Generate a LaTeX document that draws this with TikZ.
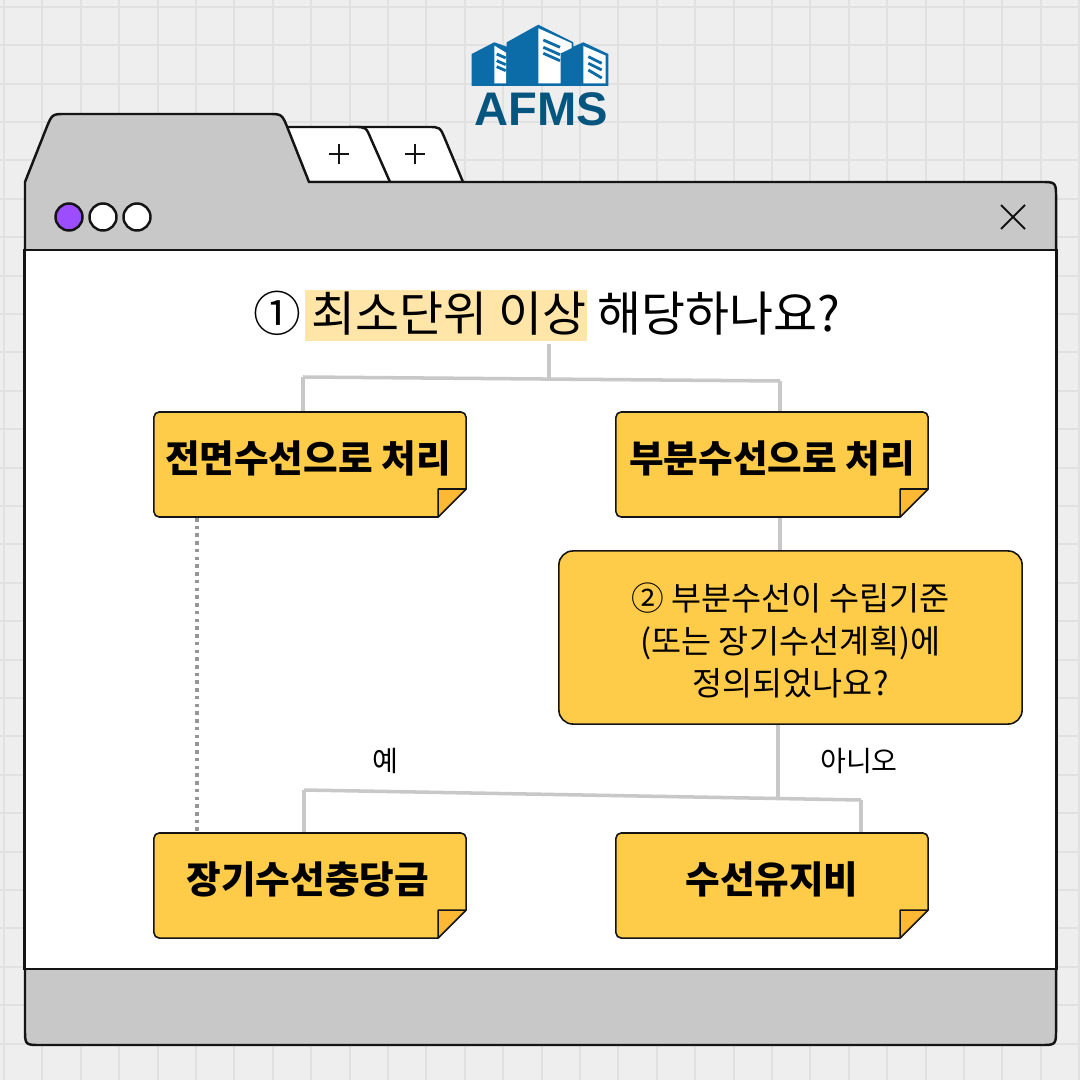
\documentclass[tikz,border=0pt]{standalone}
\usepackage{fontspec}
\setmainfont{Noto Sans CJK KR}
\newfontfamily\logofont{Liberation Sans}
\definecolor{paper}{HTML}{EEEEEE}
\definecolor{gridline}{HTML}{E1E1E1}
\definecolor{frame}{HTML}{C8C8C8}
\definecolor{ink}{HTML}{141414}
\definecolor{noteyellow}{HTML}{FFCC4A}
\definecolor{foldyellow}{HTML}{FDB933}
\definecolor{marker}{HTML}{FFE5A8}
\definecolor{logoblue}{HTML}{0C6CA8}
\definecolor{logotext}{HTML}{06557F}
\tikzset{
    notebox/.style={draw=ink,fill=noteyellow,line width=0.45pt,rounded corners=1.5pt,outer sep=0pt,minimum width=3.12cm,minimum height=1.05cm,inner sep=0pt,font=\fontsize{10.7}{12}\selectfont\bfseries},
    wire/.style={frame,line width=1pt},
    dot/.style={draw=ink,fill=white,circle,line width=0.7pt,minimum size=0.27cm,inner sep=0pt}
}
% sticky note with a folded corner
\newcommand{\stickynote}[4]{
    \node[notebox] (#1) at (#2,#3) {\raisebox{-2.2pt}[0pt][0pt]{#4}};
    \fill[white] ([shift={(-28,1)}]#1.south east) -- ([shift={(1,-28)}]#1.south east) -- ([shift={(1,1)}]#1.south east) -- cycle;
    \draw[ink,line width=0.45pt,fill=foldyellow,line join=round] ([shift={(-28,0)}]#1.south east) -- ([shift={(-28,-28)}]#1.south east) -- ([shift={(0,-28)}]#1.south east) -- cycle;
}
\begin{document}
\begin{tikzpicture}[x=0.01cm,y=-0.01cm]
    \useasboundingbox (0,0) rectangle (1080,1080);
    \fill[paper] (0,0) rectangle (1080,1080);
    \foreach \k in {0,...,28} {
        \draw[gridline,line width=0.55pt] ({4+38.4*\k},0) -- ({4+38.4*\k},1080);
        \draw[gridline,line width=0.55pt] (0,{6.8+38.4*\k}) -- (1080,{6.8+38.4*\k});
    }
    % logo
    \fill[logoblue] (471.7,54) -- (494.3,42.3) -- (506.7,46.7) -- (506.7,42.3) -- (538.3,24.7) -- (573.3,42.3) -- (573.3,46.7) -- (583.3,42.3) -- (608.3,54) -- (608.3,86) -- (471.7,86) -- cycle;
    \fill[white] (494.3,45.7) -- (506,52.7) -- (506,83.3) -- (494.3,83.3) -- cycle;
    \fill[white] (538.3,28.3) -- (571.7,43.3) -- (571.7,48) -- (560.7,53.3) -- (560.7,83.3) -- (538.3,83.3) -- cycle;
    \fill[white] (583.3,46) -- (605.7,55.7) -- (605.7,83.3) -- (583.3,83.3) -- cycle;
    \foreach \a/\b in {54/58,60.7/64.7,66.7/70.7}
        \draw[logoblue,line width=0.8pt] (496.7,\a) -- (505.7,\b);
    \foreach \a/\b in {40/47.3,47.3/54.7,53.3/60.7}
        \draw[logoblue,line width=0.8pt] (543.3,\a) -- (560,\b);
    \foreach \a/\b in {56.7/63.3,63.3/70,70/78}
        \draw[logoblue,line width=0.8pt] (588.3,\a) -- (601.7,\b);
    \node[text=logotext,font=\logofont\fontsize{13.4}{14}\selectfont\bfseries,inner sep=0pt] (logo) at (541,109) {AFMS};
    % tabs and window
    \draw[ink,line width=0.7pt,fill=white] (350,182) -- (350,127) -- (428,127) .. controls (440,127) .. (445,139) -- (463,182) -- cycle;
    \draw[ink,line width=0.7pt,fill=white] (270,182) -- (270,127) -- (354,127) .. controls (366,127) .. (371,139) -- (390,182) -- cycle;
    \draw[ink,line width=0.7pt,fill=frame] (25,600) -- (25,182) -- (46,129) .. controls (52,114) .. (66,114) -- (268,114) .. controls (282,114) .. (288,129) -- (309,182) -- (1040,182) .. controls (1056,182) .. (1056,198) -- (1056,1029) .. controls (1056,1045) .. (1040,1045) -- (41,1045) .. controls (25,1045) .. (25,1029) -- cycle;
    \node[draw=ink,fill=white,line width=0.7pt,minimum width=10.31cm,minimum height=7.19cm,inner sep=0pt,outer sep=0pt] (pane) at (540.5,609.5) {};
    \foreach \x in {339,415} {
        \draw[ink,line width=0.55pt] (\x-10,154) -- (\x+10,154);
        \draw[ink,line width=0.55pt] (\x,144) -- (\x,164);
    }
    \node[dot,fill={rgb,255:red,155;green,77;blue,255}] (dota) at (69,217) {};
    \node[dot] (dotb) at (103,217) {};
    \node[dot] (dotc) at (137,217) {};
    \draw[ink,line width=0.55pt] (1001,205) -- (1025,229);
    \draw[ink,line width=0.55pt] (1025,205) -- (1001,229);
    % question one
    \node[fill=marker,minimum width=2.82cm,minimum height=0.51cm,inner sep=0pt] (mark) at (446,315.5) {};
    \node[inner sep=0pt,font=\fontsize{13.6}{15}\selectfont] (q1) at (546.5,313) {① 최소단위 이상 해당하나요?};
    % notes
    \stickynote{whole}{310}{464.5}{\hspace*{-1.2pt}전면수선으로 처리}
    \stickynote{partial}{772}{464.5}{부분수선으로 처리}
    \stickynote{reserve}{310}{885.5}{\hspace*{-1.2pt}장기수선충당금}
    \stickynote{upkeep}{772}{885.5}{수선유지비}
    \node[draw=ink,fill=noteyellow,line width=0.45pt,rounded corners=4pt,minimum width=4.63cm,minimum height=1.73cm,inner sep=0pt,outer sep=0pt,align=center,font=\fontsize{9.3}{12.1}\selectfont] (q2) at (790.5,637.5) {\rule{0pt}{9.6pt}② 부분수선이 수립기준\\(또는 장기수선계획)에\\정의되었나요?};
    \node[inner sep=0pt,font=\fontsize{8}{10}\selectfont] (yes) at (385,761) {예};
    \node[inner sep=0pt,font=\fontsize{8}{10}\selectfont] (no) at (859,761) {아니오};
    % connectors
    \coordinate (topjoin) at (549,379);
    \coordinate (topleft) at (303,377);
    \coordinate (topright) at (780,381);
    \coordinate (lowjoin) at (778,797);
    \coordinate (lowleft) at (304,790);
    \coordinate (lowright) at (861,800);
    \draw[wire] (549,344) -- (topjoin);
    \draw[wire,line cap=square] (topleft) -- (topright);
    \draw[wire] (topleft) -- (303,411);
    \draw[wire] (topright) -- (780,411);
    \draw[wire] (780,518) -- (780,550);
    \draw[wire] (778,725) -- (lowjoin);
    \draw[wire,line cap=square] (lowleft) -- (lowright);
    \draw[wire] (lowleft) -- (304,832);
    \draw[wire] (lowright) -- (861,832);
    \draw[frame!75!black,line width=1pt,dash pattern=on 1pt off 1.2pt] (197,518) -- (197,832);
\end{tikzpicture}
\end{document}
